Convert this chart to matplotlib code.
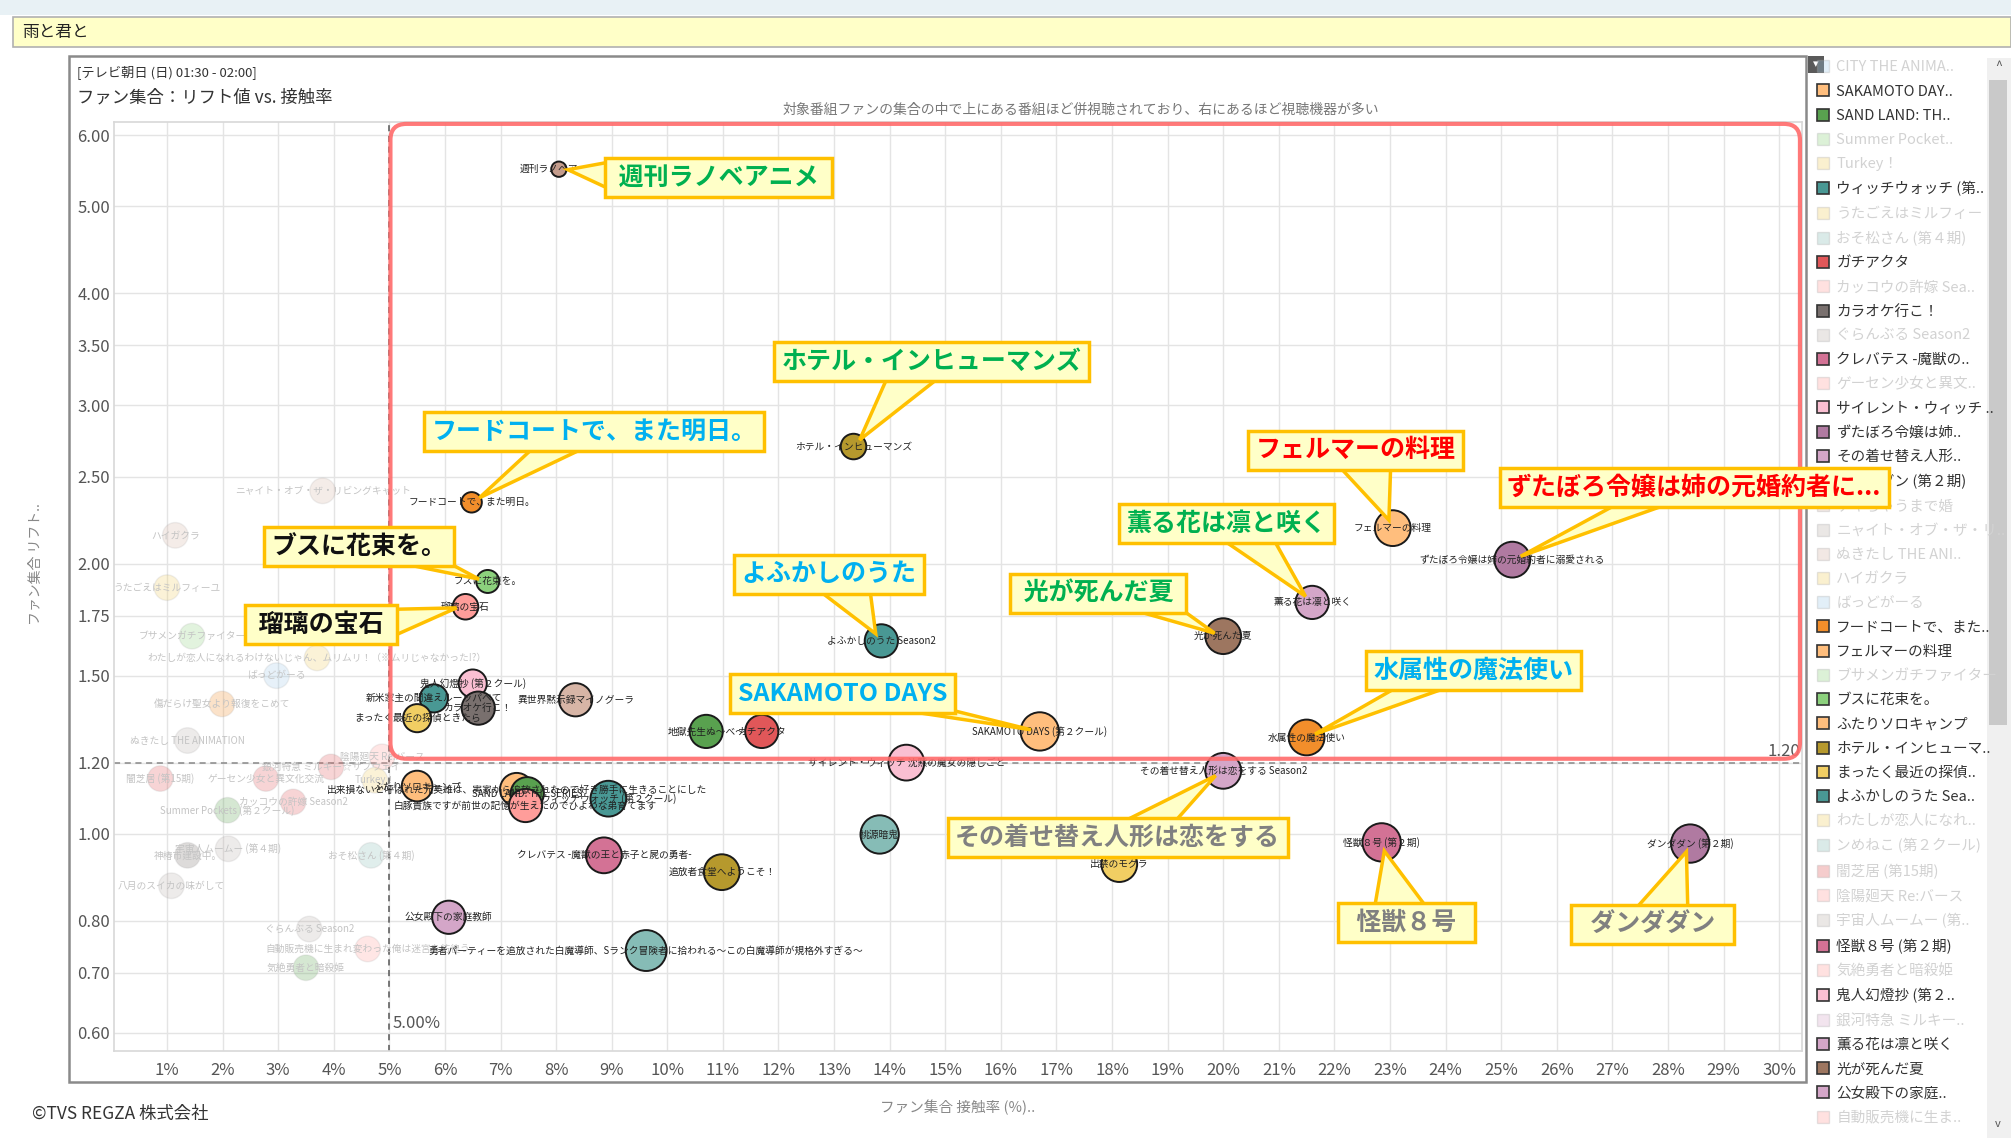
import matplotlib
matplotlib.use("Agg")
import matplotlib.pyplot as plt
from matplotlib.lines import Line2D
from matplotlib.patches import FancyBboxPatch, Rectangle, Polygon
from matplotlib.transforms import IdentityTransform
from matplotlib.colors import to_rgba

plt.rcParams["font.family"] = ["Noto Sans CJK JP", "DejaVu Sans"]

# ---------------------------------------------
# Dados: programas em destaque (接触率 %, リフト値)
# ---------------------------------------------
nomes = [
    "週刊ラノベアニメ", "ホテル・インヒューマンズ", "フードコートで、また明日。", "ブスに花束を。",
    "瑠璃の宝石", "よふかしのうた Season2", "光が死んだ夏", "薫る花は凛と咲く",
    "フェルマーの料理", "ずたぼろ令嬢は姉の元婚約者に溺愛される", "水属性の魔法使い",
    "SAKAMOTO DAYS (第２クール)", "その着せ替え人形は恋をする Season2", "怪獣８号 (第２期)",
    "ダンダダン (第２期)", "サイレント・ウィッチ 沈黙の魔女の隠しごと", "地獄先生ぬ～べ～", "ガチアクタ",
    "桃源暗鬼", "クレバテス -魔獣の王と赤子と屍の勇者-", "追放者食堂へようこそ！", "公女殿下の家庭教師",
    "勇者パーティーを追放された白魔導師、Sランク冒険者に拾われる～この白魔導師が規格外すぎる～",
    "出禁のモグラ", "鬼人幻燈抄 (第２クール)", "新米家主の間違えルーッパベて", "カラオケ行こ！",
    "まったく最近の探偵ときたら", "異世界黙示録マイノグーラ", "ふたりソロキャンプ",
    "出来損ないと呼ばれた元英雄は、実家から追放されたので好き勝手に生きることにした",
    "SAND LAND: THE SERIES", "白豚貴族ですが前世の記憶が生えたのでひよわな弟育てます",
    "ウィッチウォッチ (第２クール)",
]
contato = [8.05, 13.35, 6.48, 6.77, 6.37, 13.85, 20.0, 21.6, 23.05, 25.2, 21.5,
           16.7, 20.0, 22.85, 28.4, 14.3, 10.7, 11.7, 13.82, 8.86, 10.98, 6.07,
           9.62, 18.13, 6.5, 5.8, 6.6, 5.5, 8.35, 5.5, 7.29, 7.48, 7.45, 8.94]
lift = [5.50, 2.70, 2.34, 1.91, 1.79, 1.64, 1.66, 1.81, 2.19, 2.02, 1.28,
        1.30, 1.175, 0.978, 0.975, 1.20, 1.30, 1.30, 0.998, 0.946, 0.906, 0.807,
        0.741, 0.925, 1.47, 1.415, 1.38, 1.345, 1.41, 1.13, 1.12, 1.108, 1.075, 1.094]
bolha = [12, 20, 16, 18, 20, 26, 28, 26, 28, 28, 28,
         30, 28, 30, 30, 28, 26, 26, 30, 28, 28, 26,
         32, 28, 22, 22, 26, 22, 26, 24, 26, 26, 26, 28]
cores = ["#c49c8c", "#b6992d", "#f28e2b", "#8cd17d", "#ff9d9a", "#499894", "#9d7660", "#d4a6c8",
         "#ffbe7d", "#b07aa1", "#f28e2b", "#ffbe7d", "#d4a6c8", "#d37295", "#b07aa1", "#fabfd2",
         "#59a14f", "#e15759", "#86bcb6", "#d37295", "#b6992d", "#d4a6c8", "#86bcb6", "#f1ce63",
         "#fabfd2", "#499894", "#79706e", "#f1ce63", "#d7b5a6", "#ffbe7d", "#ffbe7d", "#59a14f",
         "#ff9d9a", "#499894"]

# programas esmaecidos (fora do filtro)
nomes_fracos = [
    "ニャイト・オブ・ザ・リビングキャット", "ハイガクラ", "うたごえはミルフィーユ", "ブサメンガチファイター",
    "わたしが恋人になれるわけないじゃん、ムリムリ！（※ムリじゃなかった!?）", "ばっどがーる",
    "傷だらけ聖女より報復をこめて", "ぬきたし THE ANIMATION", "銀河特急 ミルキー☆サブウェイ",
    "陰陽廻天 Re:バース", "闇芝居 (第15期)", "ゲーセン少女と異文化交流", "Turkey！",
    "Summer Pockets (第２クール)", "カッコウの許嫁 Season2", "おそ松さん (第４期)", "神椿市建設中。",
    "宇宙人ムームー (第４期)", "八月のスイカの味がして", "ぐらんぶる Season2",
    "自動販売機に生まれ変わった俺は迷宮を彷徨う", "気絶勇者と暗殺姫",
]
contato_fracos = [3.8, 1.15, 1.0, 1.45, 3.7, 2.97, 1.99, 1.37, 3.95, 4.87, 0.88, 2.78, 4.74,
                  2.09, 3.27, 4.67, 1.37, 2.1, 1.08, 3.56, 4.61, 3.5]
lift_fracos = [2.41, 2.15, 1.88, 1.66, 1.57, 1.50, 1.395, 1.27, 1.187, 1.218, 1.152, 1.152, 1.147,
               1.062, 1.085, 0.946, 0.946, 0.962, 0.875, 0.783, 0.744, 0.709]
cores_fracos = ["#d7b5a6", "#d7b5a6", "#f1ce63", "#8cd17d", "#f1ce63", "#a0cbe8", "#f28e2b", "#bab0ac",
                "#e15759", "#ff9d9a", "#e15759", "#e15759", "#f1ce63", "#59a14f", "#e15759", "#86bcb6",
                "#79706e", "#bab0ac", "#bab0ac", "#bab0ac", "#ff9d9a", "#59a14f"]

# balões de destaque
balao_alvo = ["週刊ラノベアニメ", "ホテル・インヒューマンズ", "フードコートで、また明日。", "ブスに花束を。",
              "瑠璃の宝石", "よふかしのうた Season2", "光が死んだ夏", "薫る花は凛と咲く", "フェルマーの料理",
              "ずたぼろ令嬢は姉の元婚約者に溺愛される", "水属性の魔法使い", "SAKAMOTO DAYS (第２クール)",
              "その着せ替え人形は恋をする Season2", "怪獣８号 (第２期)", "ダンダダン (第２期)"]
balao_texto = [" 週刊ラノベアニメ ", "ホテル・インヒューマンズ", "フードコートで、また明日。", "ブスに花束を。",
               " 瑠璃の宝石 ", "よふかしのうた", " 光が死んだ夏 ", "薫る花は凛と咲く", "フェルマーの料理",
               "ずたぼろ令嬢は姉の元婚約者に...", "水属性の魔法使い", "SAKAMOTO DAYS",
               "その着せ替え人形は恋をする", "  怪獣８号  ", "  ダンダダン  "]
balao_cor = ["#00b050", "#00b050", "#00b0f0", "#111111", "#111111", "#00b0f0", "#00b050", "#00b050",
             "#ff0000", "#ff0000", "#00b0f0", "#00b0f0", "#808080", "#808080", "#808080"]
balao_desloc = [(115, -6), (56, 61), (88, 51), (-93, 25), (-104, -13), (-38, 48), (-90, 31), (-62, 57),
                (-27, 56), (131, 52), (120, 48), (-142, 27), (-76, -48), (18, -58), (-27, -58)]

# legenda (lista com rolagem)
legenda_nomes = [
    "CITY THE ANIMA..", "SAKAMOTO DAY..", "SAND LAND: TH..", "Summer Pocket..", "Turkey！",
    "ウィッチウォッチ (第..", "うたごえはミルフィー", "おそ松さん (第４期)", "ガチアクタ", "カッコウの許嫁 Sea..",
    "カラオケ行こ！", "ぐらんぶる Season2", "クレバテス -魔獣の..", "ゲーセン少女と異文..", "サイレント・ウィッチ ..",
    "ずたぼろ令嬢は姉..", "その着せ替え人形..", "ダンダダン (第２期)", "デキちゃうまで婚", "ニャイト・オブ・ザ・リ..",
    "ぬきたし THE ANI..", "ハイガクラ", "ばっどがーる", "フードコートで、また..", "フェルマーの料理",
    "ブサメンガチファイター", "ブスに花束を。", "ふたりソロキャンプ", "ホテル・インヒューマ..", "まったく最近の探偵..",
    "よふかしのうた Sea..", "わたしが恋人になれ..", "ンめねこ (第２クール)", "闇芝居 (第15期)", "陰陽廻天 Re:バース",
    "宇宙人ムームー (第..", "怪獣８号 (第２期)", "気絶勇者と暗殺姫", "鬼人幻燈抄 (第２..", "銀河特急 ミルキー..",
    "薫る花は凛と咲く", "光が死んだ夏", "公女殿下の家庭..", "自動販売機に生ま..",
]
legenda_cores = [
    "#a0cbe8", "#ffbe7d", "#59a14f", "#8cd17d", "#f1ce63", "#499894", "#f1ce63", "#86bcb6", "#e15759",
    "#ff9d9a", "#79706e", "#bab0ac", "#d37295", "#ff9d9a", "#fabfd2", "#b07aa1", "#d4a6c8", "#b07aa1",
    "#d7b5a6", "#bab0ac", "#d7b5a6", "#f1ce63", "#a0cbe8", "#f28e2b", "#ffbe7d", "#8cd17d", "#8cd17d",
    "#ffbe7d", "#b6992d", "#f1ce63", "#499894", "#f1ce63", "#86bcb6", "#e15759", "#ff9d9a", "#bab0ac",
    "#d37295", "#ff9d9a", "#fabfd2", "#d4a6c8", "#d4a6c8", "#9d7660", "#d4a6c8", "#ff9d9a",
]
legenda_ativo = [0, 1, 1, 0, 0, 1, 0, 0, 1, 0, 1, 0, 1, 0, 1, 1, 1, 1, 0, 0, 0, 0, 0, 1, 1, 0,
                 1, 1, 1, 1, 1, 0, 0, 0, 0, 0, 1, 0, 1, 0, 1, 1, 1, 0]

y_ticks = [0.6, 0.7, 0.8, 1.0, 1.2, 1.5, 1.75, 2.0, 2.5, 3.0, 3.5, 4.0, 5.0, 6.0]
x_ticks = list(range(1, 31))


def fx(px):
    return px / 1568


def fy(py):
    return 1 - py / 887


fig = plt.figure(figsize=(20.11, 11.38), dpi=100)
fig.patch.set_facecolor("white")

# moldura da janela
fig.add_artist(Rectangle((0, fy(12)), 1, fy(0) - fy(12), transform=fig.transFigure,
                         fc="#e8f1f5", ec="none"))
fig.add_artist(Rectangle((fx(10), fy(37)), fx(1568) - fx(10), fy(13) - fy(37), transform=fig.transFigure,
                         fc="#ffffc8", ec="#b0b0b0", lw=1.2))
fig.text(fx(17), fy(25), "雨と君と", fontsize=12, va="center", color="#222")
fig.add_artist(Rectangle((fx(54), fy(843)), fx(1408) - fx(54), fy(44) - fy(843), transform=fig.transFigure,
                         fc="none", ec="#8a8a8a", lw=1.8))
fig.text(fx(60), fy(56), "[テレビ朝日 (日) 01:30 - 02:00]", fontsize=9.5, va="center", color="#333")
fig.text(fx(60), fy(76), "ファン集合：リフト値 vs. 接触率", fontsize=12.5, va="center", color="#333")
fig.text(fx(843), fy(86), "対象番組ファンの集合の中で上にある番組ほど併視聴されており、右にあるほど視聴機器が多い",
         fontsize=10, ha="center", va="center", color="#777")
fig.text(fx(28), fy(440), "ファン集合 リフト..", fontsize=10, rotation=90, ha="center", va="center", color="#888")
fig.text(fx(747), fy(863), "ファン集合 接触率 (%)..", fontsize=10.5, ha="center", va="center", color="#888")
fig.text(fx(25), fy(868), "©TVS REGZA 株式会社", fontsize=12.5, va="center", color="#333")

# barra de rolagem e botão
fig.add_artist(Rectangle((fx(1549), 0), fx(1568) - fx(1549), fy(45), transform=fig.transFigure,
                         fc="#f0f0f0", ec="none"))
fig.add_artist(Rectangle((fx(1551), fy(565)), fx(1565) - fx(1551), fy(62) - fy(565), transform=fig.transFigure,
                         fc="#c9c9c9", ec="none"))
fig.text(fx(1558), fy(52), "^", fontsize=9, ha="center", va="center", color="#555")
fig.text(fx(1558), fy(876), "v", fontsize=8, ha="center", va="center", color="#555")
fig.add_artist(Rectangle((fx(1410), fy(57)), fx(1422) - fx(1410), fy(44) - fy(57), transform=fig.transFigure,
                         fc="#5a5a5a", ec="none"))
fig.text(fx(1416), fy(50), "▾", fontsize=8, ha="center", va="center", color="white")

# ---------------------------------------------
# Gráfico principal
# ---------------------------------------------
ax = fig.add_axes([fx(89), fy(819), fx(1405) - fx(89), fy(95) - fy(819)])
ax.set_zorder(10)
ax.set_yscale("log")
ax.set_xlim(0.05, 30.41)
ax.set_ylim(0.573, 6.21)
ax.minorticks_off()
ax.set_yticks(y_ticks)
ax.set_yticklabels([f"{v:.2f}" for v in y_ticks])
ax.set_xticks(x_ticks)
ax.set_xticklabels([f"{v}%" for v in x_ticks])
ax.tick_params(axis="both", length=0, labelsize=12, labelcolor="#555")
ax.tick_params(axis="x", pad=8)
ax.tick_params(axis="y", pad=3)
ax.grid(True, color="#e4e4e4", lw=1)
ax.set_axisbelow(True)
for sp in ax.spines.values():
    sp.set_color("#d8d8d8")
    sp.set_linewidth(1.2)

ax.axvline(5, color="#555", lw=1.1, ls=(0, (4, 3)), zorder=1)
ax.axhline(1.2, color="#888", lw=1.1, ls=(0, (4, 3)), zorder=1)
ax.text(5.05, 0.615, "5.00%", fontsize=12, color="#555", va="center")
ax.text(30.38, 1.235, "1.20", fontsize=12, color="#555", ha="right", va="center")

# pontos esmaecidos
ax.scatter(contato_fracos, lift_fracos, s=(0.92 * 20) ** 2, c=[to_rgba(c, 0.25) for c in cores_fracos],
           edgecolors=[to_rgba("#999", 0.15)] * len(cores_fracos), linewidths=1, zorder=2)
for n, xv, yv in zip(nomes_fracos, contato_fracos, lift_fracos):
    ax.text(xv, yv, n, fontsize=7, ha="center", va="center", color="#c4c4c4", zorder=3)

# pontos em destaque
ax.scatter(contato, lift, s=[(0.92 * b) ** 2 for b in bolha], c=cores, edgecolors="#1a1a1a",
           linewidths=1.4, zorder=4)
for n, xv, yv in zip(nomes, contato, lift):
    ax.text(xv, yv, n, fontsize=7, ha="center", va="center", color="#222", zorder=5)

# balões (caixa de texto)
baloes = []
for alvo, texto, cor, desloc in zip(balao_alvo, balao_texto, balao_cor, balao_desloc):
    i = nomes.index(alvo)
    ann = ax.annotate(texto, xy=(contato[i], lift[i]), xytext=desloc, textcoords="offset points",
                      ha="center", va="center", fontsize=18, fontweight="bold", color=cor, zorder=20,
                      bbox=dict(boxstyle="square,pad=0.3", fc="#ffffc8", ec="#ffc000", lw=2.5))
    baloes.append((ann, i))

fig.canvas.draw()
renderer = fig.canvas.get_renderer()

# retângulo vermelho arredondado (região x > 5%, lift > 1.2)
x0, y0 = ax.transData.transform((5.02, 1.212))
x1, y1 = ax.transData.transform((30.41, 6.21))
ax.add_artist(FancyBboxPatch((x0, y0), x1 - 2 - x0, y1 - 2 - y0, boxstyle="round,pad=0,rounding_size=16",
                             transform=IdentityTransform(), fc="none", ec="#ff6b6b", lw=3,
                             alpha=0.9, zorder=6, clip_on=False))

# ponteiros dos balões (triângulo da borda da caixa até o ponto)
for ann, i in baloes:
    bb = ann.get_bbox_patch().get_window_extent(renderer)
    cx, cy = (bb.x0 + bb.x1) / 2, (bb.y0 + bb.y1) / 2
    px, py = ax.transData.transform((contato[i], lift[i]))
    dx, dy = px - cx, py - cy
    dist = (dx ** 2 + dy ** 2) ** 0.5
    tip = (px - dx / dist * 9, py - dy / dist * 9)
    tx = (bb.width / 2) / abs(dx) if dx else 1e9
    ty = (bb.height / 2) / abs(dy) if dy else 1e9
    if tx < ty:
        ex = bb.x1 if dx > 0 else bb.x0
        ey = cy + dy * tx
        half = min(17, bb.height / 2 - 6)
        ey = min(max(ey, bb.y0 + half + 4), bb.y1 - half - 4)
        inset = -4 if dx > 0 else 4
        base = [(ex + inset, ey - half), (ex + inset, ey + half)]
    else:
        ey = bb.y1 if dy > 0 else bb.y0
        ex = cx + dx * ty
        half = min(26, bb.width / 2 - 8)
        ex = min(max(ex, bb.x0 + half + 6), bb.x1 - half - 6)
        inset = -4 if dy > 0 else 4
        base = [(ex - half, ey + inset), (ex + half, ey + inset)]
    ax.add_artist(Polygon([tip, base[0], base[1]], closed=True, transform=IdentityTransform(),
                          fc="#ffffc8", ec="#ffc000", lw=2.5, joinstyle="miter", zorder=19, clip_on=False))

# legenda
handles = []
for c, a in zip(legenda_cores, legenda_ativo):
    if a:
        handles.append(Line2D([], [], marker="s", ls="none", ms=9, mfc=c, mec="#333", mew=1.2))
    else:
        handles.append(Line2D([], [], marker="s", ls="none", ms=9, mfc=to_rgba(c, 0.3),
                              mec=to_rgba("#aaa", 0.3), mew=1.0))
leg = fig.legend(handles, legenda_nomes, loc="upper left", bbox_to_anchor=(fx(1417), fy(47)),
                 frameon=False, fontsize=10.5, handlelength=0.8, handletextpad=0.5,
                 labelspacing=0.7, borderaxespad=0, borderpad=0)
for t, a in zip(leg.get_texts(), legenda_ativo):
    t.set_color("#333" if a else "#d2d2d2")

plt.savefig("out.png", dpi=100)
print("ok")
